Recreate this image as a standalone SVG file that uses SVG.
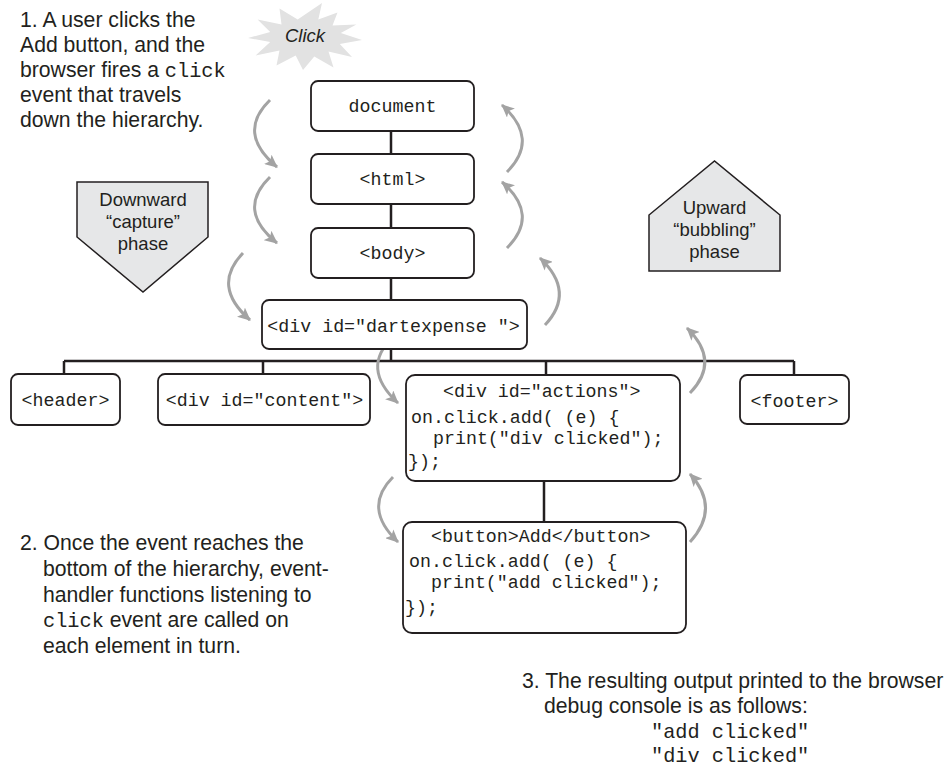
<svg xmlns="http://www.w3.org/2000/svg" width="951" height="770" viewBox="0 0 951 770">
<defs>
<style>
.box{fill:#fff;stroke:#231f20;stroke-width:1.8}
.mono{font-family:"Liberation Mono","Courier New",monospace;font-size:18.3px;fill:#231f20}
.sans{font-family:"Liberation Sans",Arial,sans-serif;font-size:21.2px;fill:#231f20}
.ph{font-family:"Liberation Sans",Arial,sans-serif;font-size:18.5px;fill:#231f20;text-anchor:middle}
.im{font-family:"Liberation Mono","Courier New",monospace;font-size:20.3px}
.line{stroke:#231f20;stroke-width:2.5;fill:none}
.arc{stroke:#a3a3a3;stroke-width:3;fill:none;marker-end:url(#ah)}
.pent{fill:#e6e7e8;stroke:#231f20;stroke-width:1.5}
</style>
<marker id="ah" markerUnits="userSpaceOnUse" markerWidth="14" markerHeight="12" refX="12" refY="6" orient="auto" viewBox="0 0 14 12">
<path d="M0,0 L13,6 L0,12 L3,6 Z" fill="#a3a3a3"/>
</marker>
</defs>
<rect width="951" height="770" fill="#fff"/>

<g id="click-burst">
<polygon fill="#e2e2e2" points="362,40 339.8,43.9 352,57 328.5,51.4 333.5,67.6 314.3,56.4 303,70 295.7,55.4 276.5,65.6 279.5,50.4 255.6,55.5 270.2,41.9 248,38 270.2,32.1 257.6,19.5 281.5,24.6 279.5,8.4 297.7,19.6 322,3 318.3,19.6 337.5,12.4 332.5,25.6 356.4,24.5 340.8,33.1"/>
<text x="305" y="42" style="font-family:'Liberation Sans',Arial,sans-serif;font-size:18.5px;font-style:italic;fill:#231f20" text-anchor="middle">Click</text>
</g>

<g id="note1">
<text class="sans" x="20" y="27">1. A user clicks the</text>
<text class="sans" x="20" y="52">Add button, and the</text>
<text class="sans" x="20" y="77">browser fires a <tspan class="im">click</tspan></text>
<text class="sans" x="20" y="102">event that travels</text>
<text class="sans" x="20" y="127">down the hierarchy.</text>
</g>

<g id="capture-phase">
<polygon class="pent" points="77,182 208,182 208,237 143,292 77,237"/>
<text class="ph" x="143" y="206">Downward</text>
<text class="ph" x="143" y="228">“capture”</text>
<text class="ph" x="143" y="250">phase</text>
</g>

<g id="bubbling-phase">
<polygon class="pent" points="649,271 780,271 780,215 714.5,161 649,215"/>
<text class="ph" x="714.5" y="214">Upward</text>
<text class="ph" x="714.5" y="236">“bubbling”</text>
<text class="ph" x="714.5" y="258">phase</text>
</g>

<g id="connectors">
<path class="line" d="M391,131V154M391,204V228M391,278V300M391,349V361M64,361H794M64,361V374M263,361V374M546,361V375M794,361V375M544,481V522"/>
</g>

<g id="arrows">
<path class="arc" d="M270,100 Q236,133 277,167"/>
<path class="arc" d="M270,177 Q236,210 277,243"/>
<path class="arc" d="M243,253 Q211,286 250,320"/>
<path class="arc" d="M393,337 Q360,368 398,403"/>
<path class="arc" d="M393,477 Q362,508 398,542"/>
<path class="arc" d="M507,172 Q540,139 502,105"/>
<path class="arc" d="M507,248 Q540,215 502,182"/>
<path class="arc" d="M545,325 Q576,292 540,258"/>
<path class="arc" d="M690,393 Q721,361 687,328"/>
<path class="arc" d="M690,542 Q721,508 690,474"/>
</g>

<g id="document">
<rect class="box" x="311" y="81" width="163" height="50" rx="7"/>
<text class="mono" x="392.5" y="112" text-anchor="middle">document</text>
</g>
<g id="html">
<rect class="box" x="311" y="154" width="163" height="50" rx="7"/>
<text class="mono" x="392.5" y="185" text-anchor="middle">&lt;html&gt;</text>
</g>
<g id="body">
<rect class="box" x="311" y="228" width="163" height="50" rx="7"/>
<text class="mono" x="392.5" y="259" text-anchor="middle">&lt;body&gt;</text>
</g>
<g id="dartexpense">
<rect class="box" x="262" y="300" width="265" height="49" rx="7"/>
<text class="mono" x="393.5" y="332" text-anchor="middle">&lt;div id="dartexpense "&gt;</text>
</g>
<g id="header">
<rect class="box" x="11" y="374" width="109" height="51" rx="7"/>
<text class="mono" x="65.5" y="406" text-anchor="middle">&lt;header&gt;</text>
</g>
<g id="content">
<rect class="box" x="158" y="374" width="212" height="51" rx="7"/>
<text class="mono" x="264.5" y="406" text-anchor="middle">&lt;div id="content"&gt;</text>
</g>
<g id="actions">
<rect class="box" x="406" y="375" width="274" height="106" rx="9"/>
<text class="mono" x="443" y="397">&lt;div id="actions"&gt;</text>
<text class="mono" x="411" y="423">on.click.add( (e) {</text>
<text class="mono" x="433" y="444">print("div clicked");</text>
<text class="mono" x="408" y="467">});</text>
</g>
<g id="footer">
<rect class="box" x="740" y="375" width="109" height="49" rx="7"/>
<text class="mono" x="794.5" y="407" text-anchor="middle">&lt;footer&gt;</text>
</g>
<g id="button">
<rect class="box" x="403" y="522" width="283" height="111" rx="9"/>
<text class="mono" x="431" y="542">&lt;button&gt;Add&lt;/button&gt;</text>
<text class="mono" x="409" y="567">on.click.add( (e) {</text>
<text class="mono" x="431" y="588">print("add clicked");</text>
<text class="mono" x="405" y="613">});</text>
</g>

<g id="note2">
<text class="sans" x="20" y="550">2. Once the event reaches the</text>
<text class="sans" x="43" y="576">bottom of the hierarchy, event-</text>
<text class="sans" x="43" y="602">handler functions listening to</text>
<text class="sans" x="43" y="627"><tspan class="im">click</tspan> event are called on</text>
<text class="sans" x="43" y="653">each element in turn.</text>
</g>

<g id="note3">
<text class="sans" x="522" y="688">3. The resulting output printed to the browser</text>
<text class="sans" x="544" y="713">debug console is as follows:</text>
<text class="sans" x="651" y="738"><tspan class="im">"add clicked"</tspan></text>
<text class="sans" x="651" y="762"><tspan class="im">"div clicked"</tspan></text>
</g>
</svg>
